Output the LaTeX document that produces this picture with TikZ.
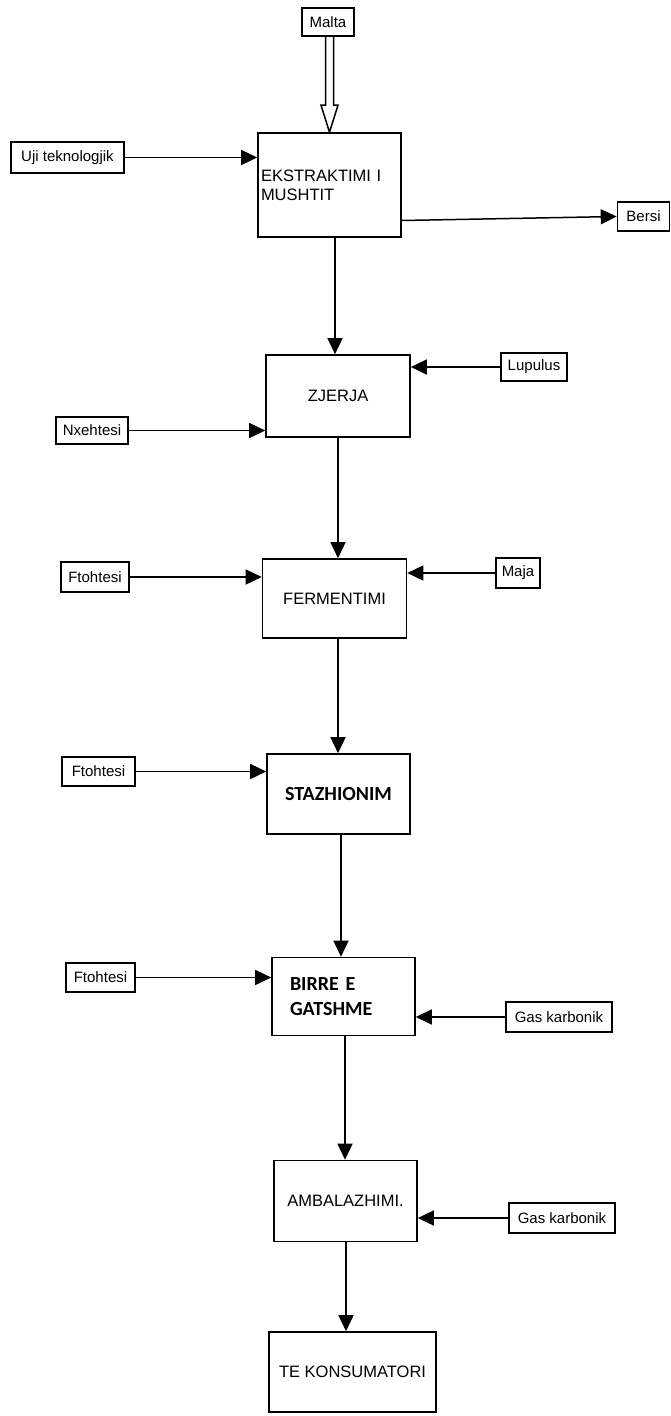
\documentclass[tikz,border=0pt]{standalone}
\usepackage{fontspec}
\setmainfont{Liberation Sans}
\newfontfamily\calib{Carlito}
\usetikzlibrary{arrows.meta,calc}
\begin{document}
\begin{tikzpicture}[x=1pt,y=-1pt,line width=1.6pt,
  box/.style={draw,rectangle,inner sep=0pt,font=\fontsize{16.5}{19}\selectfont,align=center},
  bbox/.style={draw,rectangle,inner sep=0pt,font=\calib\bfseries\fontsize{20}{25}\selectfont,align=center},
  lab/.style={draw,rectangle,inner sep=0pt,font=\fontsize{15}{18}\selectfont},
  arr/.style={-{Triangle[length=16pt,width=15pt]},line width=1.5pt}]
\useasboundingbox (0,0) rectangle (671,1416);

% main process boxes
\node[box,minimum height=104pt,text width=137pt,inner xsep=3pt,align=left] (eks) at (329.5,185) {EKSTRAKTIMI I\\MUSHTIT};
\node[box,minimum width=144pt,minimum height=82pt] (zjerja) at (338,396) {ZJERJA};
\node[box,minimum width=144pt,minimum height=79pt] (ferm) at (334.5,598.5) {FERMENTIMI};
\node[bbox,minimum width=143pt,minimum height=80pt] (staz) at (338.5,794) {STAZHIONIM};
\node[bbox,minimum height=78pt,text width=107pt,inner xsep=18pt,align=left] (birre) at (343.5,996.5) {BIRRE E\\GATSHME};
\node[box,minimum width=143pt,minimum height=81pt] (amb) at (345.5,1201) {AMBALAZHIMI.};
\node[box,minimum width=167pt,minimum height=80pt] (te) at (352.5,1372) {TE KONSUMATORI};

% input / output labels
\node[lab,minimum width=52pt,minimum height=28pt] (malta) at (328,22) {Malta};
\node[lab,minimum width=113pt,minimum height=31pt] (uji) at (67.5,157.5) {Uji teknologjik};
\node[lab,minimum width=52pt,minimum height=29pt] (bersi) at (643.5,216.5) {Bersi};
\node[lab,minimum width=66pt,minimum height=28pt] (lupulus) at (534,367) {Lupulus};
\node[lab,minimum width=72pt,minimum height=27pt] (nxeh) at (92,430.5) {Nxehtesi};
\node[lab,minimum width=68pt,minimum height=30pt] (ftoh1) at (95,577) {Ftohtesi};
\node[lab,minimum width=44pt,minimum height=30pt] (maja) at (518,573) {Maja};
\node[lab,minimum width=73pt,minimum height=29pt] (ftoh2) at (98.5,771.5) {Ftohtesi};
\node[lab,minimum width=69pt,minimum height=29pt] (ftoh3) at (100.5,977.5) {Ftohtesi};
\node[lab,minimum width=106pt,minimum height=30pt] (gas1) at (559,1017) {Gas karbonik};
\node[lab,minimum width=106pt,minimum height=30pt] (gas2) at (562,1218) {Gas karbonik};

% hollow double arrow from Malta
\path (eks.north |- malta.south) coordinate (ms);
\coordinate (hb) at ($(eks.north)+(0,-27)$);
\draw[line join=miter,line width=1.5pt]
  ($(ms)+(-4,0)$) -- ($(hb)+(-4,0)$) -- ($(hb)+(-8.5,0)$) -- (eks.north)
  -- ($(hb)+(8.5,0)$) -- ($(hb)+(4,0)$) -- ($(ms)+(4,0)$);

% horizontal inputs
\draw[arr] (uji.east) -- (uji.east -| eks.west);
\coordinate (bs) at ($(bersi.west -| eks.east)+(0,4)$);
\draw[arr] (bs) -- (bersi.west);
\draw[arr] (lupulus.west) -- (lupulus.west -| zjerja.east);
\draw[arr] (nxeh.east) -- (nxeh.east -| zjerja.west);
\draw[arr] (ftoh1.east) -- (ftoh1.east -| ferm.west);
\draw[arr] (maja.west) -- (maja.west -| ferm.east);
\draw[arr] (ftoh2.east) -- (ftoh2.east -| staz.west);
\draw[arr] (ftoh3.east) -- (ftoh3.east -| birre.west);
\draw[arr] (gas1.west) -- (gas1.west -| birre.east);
\draw[arr] (gas2.west) -- (gas2.west -| amb.east);

% vertical flow
\draw[arr] (eks.south -| 335,0) -- (zjerja.north -| 335,0);
\draw[arr] (zjerja.south -| 338,0) -- (ferm.north -| 338,0);
\draw[arr] (ferm.south -| 338,0) -- (staz.north -| 338,0);
\draw[arr] (staz.south -| 341,0) -- (birre.north -| 341,0);
\draw[arr] (birre.south -| 345,0) -- (amb.north -| 345,0);
\draw[arr] (amb.south -| 346,0) -- (te.north -| 346,0);
\end{tikzpicture}
\end{document}
